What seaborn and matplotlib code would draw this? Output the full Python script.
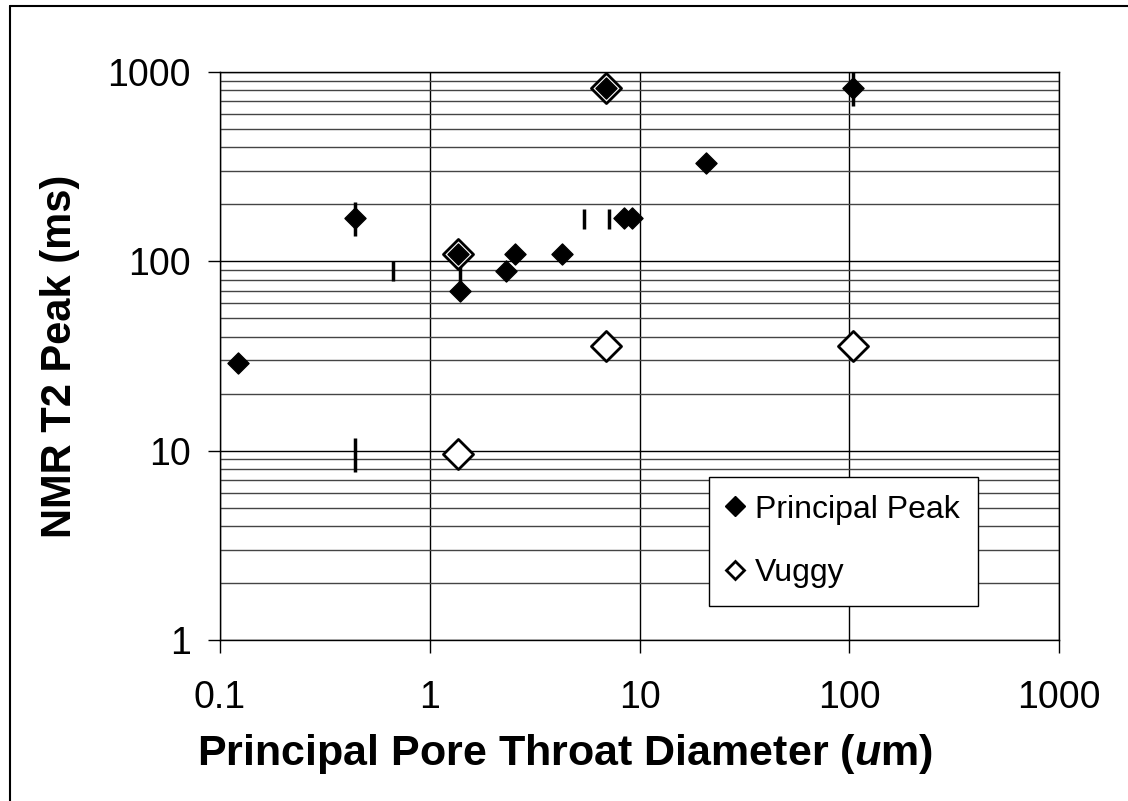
import matplotlib
matplotlib.use("Agg")
import matplotlib.pyplot as plt
from matplotlib.lines import Line2D
from matplotlib.ticker import FixedLocator, FixedFormatter, NullFormatter
import seaborn as sns

# principal peak (filled diamonds)
peak_diam = [0.122, 0.44, 1.36, 1.40, 2.30, 2.54, 4.25, 6.89, 8.4, 9.26, 20.8, 104]
peak_t2 = [29, 169, 109, 70, 88.5, 109, 109, 823, 169, 169, 330, 823]

# vuggy (open diamonds)
vug_diam = [1.36, 1.36, 6.89, 6.89, 104]
vug_t2 = [9.6, 109, 35.5, 823, 35.5]

# vertical marks, no legend entry
long_diam = [0.44, 0.44, 104]
long_t2 = [9.5, 167, 813]
short_diam = [0.667, 1.40, 5.41, 7.12]
short_t2 = [88.5, 86, 167, 167]

x_ticks = [0.1, 1, 10, 100, 1000]
x_labels = ["0.1", "1", "10", "100", "1000"]
y_ticks = [1, 10, 100, 1000]
y_labels = ["1", "10", "100", "1000"]
y_minor = [m * d for d in [1, 10, 100] for m in range(2, 10)]

sns.set_theme(style="white")
plt.rcParams['font.family'] = ['Liberation Sans', 'DejaVu Sans']
plt.rcParams['mathtext.fontset'] = 'custom'
plt.rcParams['mathtext.it'] = 'Liberation Sans:italic:bold'
plt.rcParams['mathtext.rm'] = 'Liberation Sans:bold'

fig = plt.figure(figsize=(11.28, 8.01), dpi=100)
fig.patch.set_facecolor('white')
ax = fig.add_axes([220 / 1128, 1 - 640 / 801, 839 / 1128, 568 / 801])
ax.set_facecolor('white')

# marks first, then vuggy (white fill), principal peak on top
sns.scatterplot(x=long_diam, y=long_t2, marker='|', s=600, color='black',
                linewidth=2.5, ax=ax, zorder=3, legend=False)
sns.scatterplot(x=short_diam, y=short_t2, marker='|', s=220, color='black',
                linewidth=2.5, ax=ax, zorder=3, legend=False)
sns.scatterplot(x=vug_diam, y=vug_t2, marker='D', s=235, facecolor='white',
                edgecolor='black', linewidth=2, ax=ax, zorder=4, legend=False)
sns.scatterplot(x=peak_diam, y=peak_t2, marker='D', s=115, color='black',
                edgecolor='black', linewidth=1, ax=ax, zorder=5, legend=False)

ax.set_xscale('log')
ax.set_yscale('log')
ax.set_xlim(0.1, 1000)
ax.set_ylim(1, 1000)

ax.xaxis.set_major_locator(FixedLocator(x_ticks))
ax.xaxis.set_major_formatter(FixedFormatter(x_labels))
ax.xaxis.set_minor_locator(FixedLocator([]))
ax.yaxis.set_major_locator(FixedLocator(y_ticks))
ax.yaxis.set_major_formatter(FixedFormatter(y_labels))
ax.yaxis.set_minor_locator(FixedLocator(y_minor))
ax.yaxis.set_minor_formatter(NullFormatter())

ax.grid(True, which='major', axis='both', color='black', linewidth=1)
ax.grid(True, which='minor', axis='y', color='#444444', linewidth=1)
ax.set_axisbelow(True)

ax.tick_params(axis='x', which='major', direction='out', length=9, width=1,
               color='black', pad=20, labelsize=27, labelcolor='black', bottom=True)
ax.tick_params(axis='y', which='major', direction='out', length=9, width=1,
               color='black', pad=12, labelsize=27, labelcolor='black', left=True)
ax.tick_params(axis='y', which='minor', length=0, left=False)

for sp in ax.spines.values():
    sp.set_color('black')
    sp.set_linewidth(1)

ax.set_xlabel(r'Principal Pore Throat Diameter ($\mathit{u}$m)', fontsize=31,
              fontweight='bold', color='black')
ax.xaxis.label.set_va('center')
ax.xaxis.set_label_coords((565 - 220) / 839, (640 - 754) / 568)
ax.set_ylabel('NMR T2 Peak (ms)', fontsize=30, fontweight='bold', color='black')
ax.yaxis.label.set_va('center')
ax.yaxis.set_label_coords((60 - 220) / 839, 0.5)

handles = [
    Line2D([], [], marker='D', ls='none', color='black', markersize=10.5),
    Line2D([], [], marker='D', ls='none', markerfacecolor='white',
           markeredgecolor='black', markeredgewidth=2, markersize=9),
]
leg = ax.legend(handles, ['Principal Peak', 'Vuggy'], loc='upper left',
                bbox_to_anchor=((709 - 220) / 839, (640 - 477) / 568),
                frameon=True, fancybox=False, framealpha=1, fontsize=23,
                handlelength=0.5, handletextpad=0.4, labelspacing=1.05,
                borderpad=0.55, borderaxespad=0)
leg.get_frame().set_edgecolor('black')
leg.get_frame().set_linewidth(1)
for t in leg.get_texts():
    t.set_color('black')

# outer chart frame, cut at right and bottom
x0 = 10 / 1128
y0 = 1 - 6 / 801
fig.add_artist(Line2D([x0, x0], [0, y0], transform=fig.transFigure, color='black', lw=1.5))
fig.add_artist(Line2D([x0, 1], [y0, y0], transform=fig.transFigure, color='black', lw=1.5))

fig.savefig('out.png', dpi=100, facecolor='white')
